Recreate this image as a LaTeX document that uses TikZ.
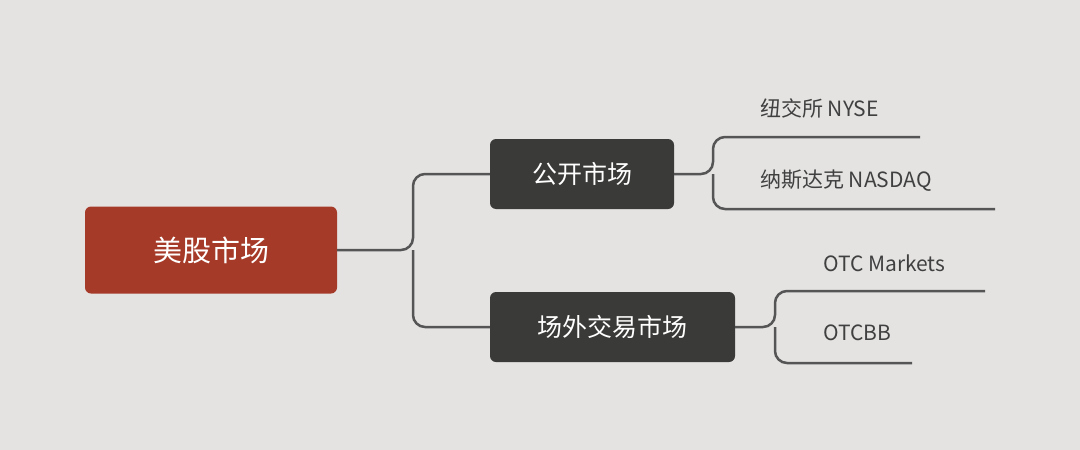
\documentclass[tikz,border=0pt]{standalone}
\usepackage{fontspec}
\setmainfont{Noto Sans CJK SC}
\definecolor{bgc}{HTML}{E4E3E2}
\definecolor{rootc}{HTML}{A63A28}
\definecolor{darkc}{HTML}{3A3A38}
\definecolor{linec}{HTML}{555555}
\definecolor{txtc}{HTML}{404040}
\begin{document}
\begin{tikzpicture}[x=1pt,y=-1pt,
  root/.style={rectangle, rounded corners=6pt, fill=rootc, text=white, font=\fontsize{29}{30}\selectfont, minimum width=252pt, minimum height=87pt},
  topic/.style={rectangle, rounded corners=6pt, fill=darkc, text=white, font=\fontsize{25}{26}\selectfont, minimum height=70pt},
  leaf/.style={text=txtc, font=\fontsize{21}{22}\selectfont, anchor=west, inner sep=0pt},
  conn/.style={draw=linec, line width=2.5pt, rounded corners=12pt}]
\fill[bgc] (0,0) rectangle (1080,450);
\useasboundingbox (0,0) rectangle (1080,450);

\node[root] (us) at (211,250) {美股市场};
\node[topic, minimum width=184pt] (pub) at (582,174) {公开市场};
\node[topic, minimum width=245pt] (otc) at (612.5,327) {场外交易市场};

\coordinate (ue1) at (920,137);
\coordinate (ue2) at (995,209);
\coordinate (oe1) at (985,291);
\coordinate (oe2) at (912,363);

\node[leaf] (nyse) at (760,108) {纽交所 NYSE};
\node[leaf] (nasdaq) at (760,181) {纳斯达克 NASDAQ};
\node[leaf] (otcm) at (823,263) {OTC Markets};
\node[leaf] (otcbb) at (823,333) {OTCBB};

\draw[conn] (us.east) -- (413,250) |- (pub.west);
\draw[conn] (413,250) |- (otc.west);
\draw[conn] (pub.east) -- (713,174) |- (ue1);
\draw[conn] (713,174) |- (ue2);
\draw[conn] (otc.east) -- (775,327) |- (oe1);
\draw[conn] (775,327) |- (oe2);
\end{tikzpicture}
\end{document}
